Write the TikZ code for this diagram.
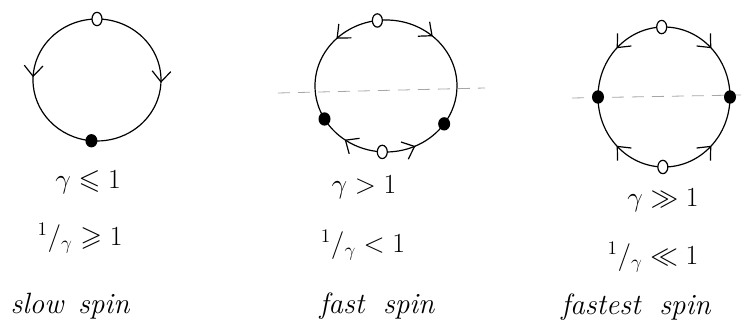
\documentclass[tikz,border=0pt]{standalone}
\usepackage{amssymb}
\usetikzlibrary{arrows.meta,decorations.markings,calc,shapes.geometric}
\tikzset{
 ring/.style={line width=0.9pt},
 midarrow/.style={postaction={decorate},decoration={markings,mark=at position #1 with {\arrow{Straight Barb[length=8pt,width=14pt,line width=0.9pt]}}}},
 opendot/.style={draw,line width=0.9pt,fill=white,ellipse,minimum width=7.5pt,minimum height=10pt,inner sep=0pt},
 fulldot/.style={fill=black,ellipse,minimum width=9pt,minimum height=10pt,inner sep=0pt},
 axisline/.style={gray!70,line width=0.6pt,dash pattern=on 9pt off 6pt},
 lab/.style={font=\fontsize{21}{25}\selectfont,inner sep=0pt},
 words/.style={font=\fontsize{22}{26}\selectfont\itshape,inner sep=0pt}
}
\newcommand\ringarc[6]{\draw[ring,midarrow=#6] ($(#1)+(#4:#2 and #3)$) arc[start angle=#4,end angle=#5,x radius=#2,y radius=#3];}
\begin{document}
\begin{tikzpicture}[x=0.75pt,y=0.75pt]
\useasboundingbox (0,0) rectangle (744,331);
% ring 1
\coordinate (c1) at (97,251);
\ringarc{c1}{48pt}{45.75pt}{90}{265}{0.5}
\ringarc{c1}{48pt}{45.75pt}{90}{-95}{0.5}
\node[opendot] (t1) at ($(c1)+(90:48pt and 45.75pt)$) {};
\node[fulldot] (b1) at ($(c1)+(265:48pt and 45.75pt)$) {};
% ring 2
\coordinate (c2) at (386,245);
\coordinate (d2a) at (278,238);
\coordinate (d2b) at (485,243);
\draw[axisline] (d2a) -- (d2b);
\ringarc{c2}{53.25pt}{49.5pt}{90}{210}{0.38}
\ringarc{c2}{53.25pt}{49.5pt}{90}{-35}{0.34}
\ringarc{c2}{53.25pt}{49.5pt}{270}{210}{0.6}
\ringarc{c2}{53.25pt}{49.5pt}{270}{325}{0.45}
\node[opendot] (t2) at ($(c2)+(97:53.25pt and 49.5pt)$) {};
\node[opendot] (b2) at ($(c2)+(267:53.25pt and 49.5pt)$) {};
\node[fulldot] (l2) at ($(c2)+(210:53.25pt and 49.5pt)$) {};
\node[fulldot] (r2) at ($(c2)+(-35:53.25pt and 49.5pt)$) {};
% ring 3
\coordinate (c3) at (664,234);
\coordinate (d3a) at (572,233);
\coordinate (d3b) at (741,236);
\draw[axisline] (d3a) -- (d3b);
\ringarc{c3}{49.5pt}{52.5pt}{90}{180}{0.5}
\ringarc{c3}{49.5pt}{52.5pt}{90}{0}{0.5}
\ringarc{c3}{49.5pt}{52.5pt}{270}{180}{0.5}
\ringarc{c3}{49.5pt}{52.5pt}{270}{360}{0.5}
\node[opendot] (t3) at ($(c3)+(92:49.5pt and 52.5pt)$) {};
\node[opendot] (b3) at ($(c3)+(269:49.5pt and 52.5pt)$) {};
\node[fulldot] (l3) at ($(c3)+(180:49.5pt and 52.5pt)$) {};
\node[fulldot] (r3) at ($(c3)+(0:49.5pt and 52.5pt)$) {};
% labels
\node[lab] (g1) at (88,149) {$\gamma \leqslant 1$};
\node[lab] (h1) at (80,93) {$^{1}/_{\gamma} \geqslant 1$};
\node[words] (s1) at (70,25) {slow\enspace spin};
\node[lab] (g2) at (364,144) {$\gamma > 1$};
\node[lab] (h2) at (363,86) {$^{1}/_{\gamma} < 1$};
\node[words] (s2) at (377,25) {fast\hspace{14pt}spin};
\node[lab] (g3) at (663,131) {$\gamma \gg 1$};
\node[lab] (h3) at (653,74) {$^{1}/_{\gamma} \ll 1$};
\node[words] (s3) at (636,24) {fastest\hspace{14pt}spin};
\end{tikzpicture}
\end{document}
